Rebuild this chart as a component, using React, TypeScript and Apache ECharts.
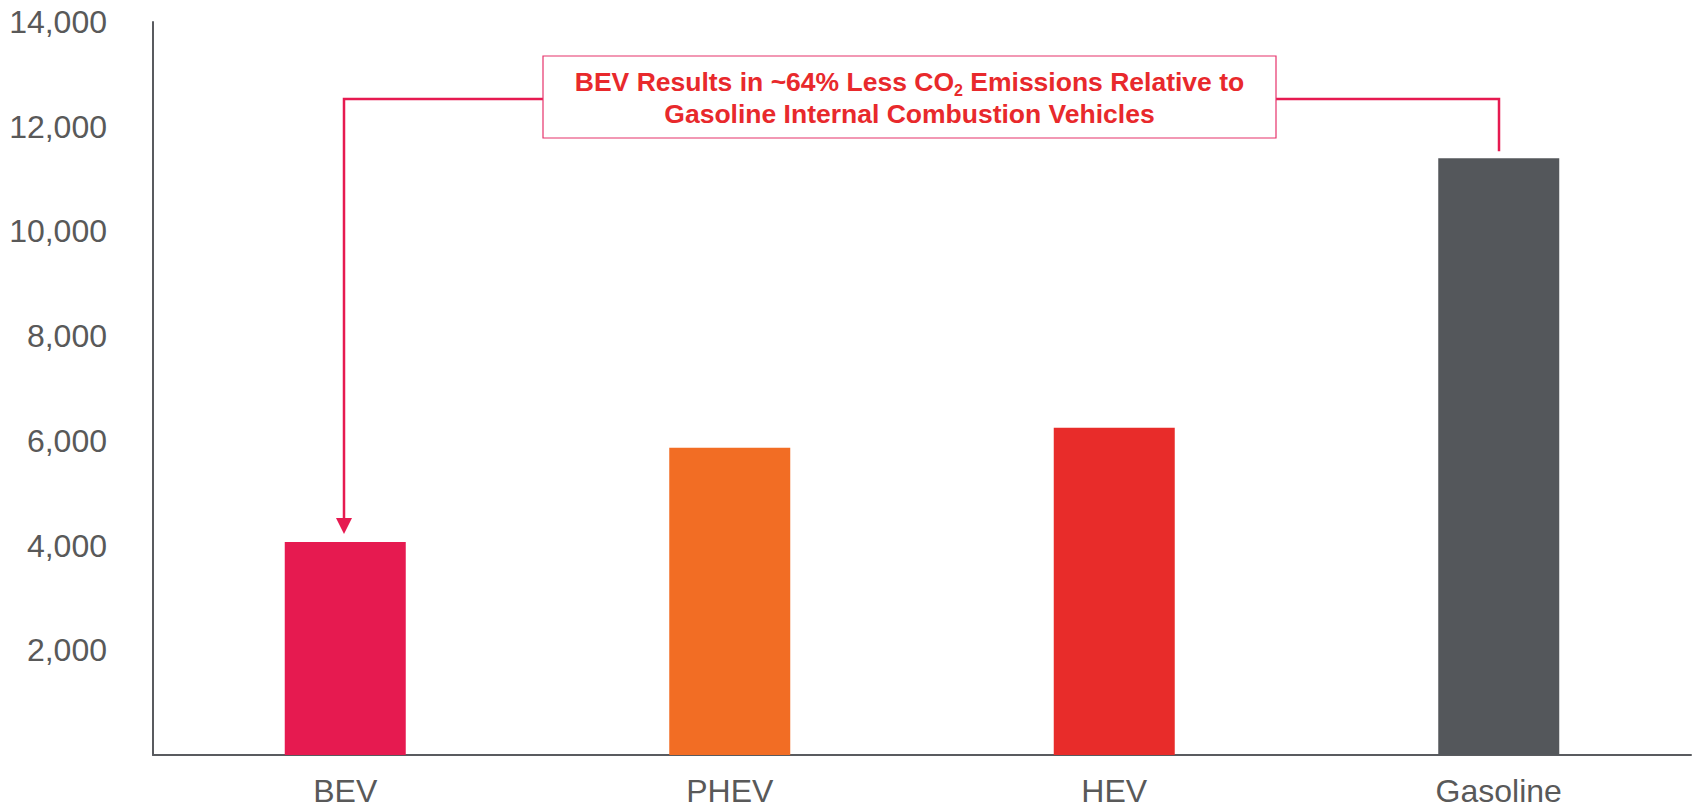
import React, { useEffect, useRef } from 'react';
import * as echarts from 'echarts';

const categories = ['BEV', 'PHEV', 'HEV', 'Gasoline'];
const emissions = [4070, 5870, 6250, 11400];
const barColors = ['#E61A50', '#F26D24', '#E82C2A', '#54575B'];
const yMax = 14000;
const yInterval = 2000;
const calloutLine1 = 'BEV Results in ~64% Less CO';
const calloutSub = '2';
const calloutLine1End = ' Emissions Relative to';
const calloutLine2 = 'Gasoline Internal Combustion Vehicles';

const axisGray = '#595b5f';
const labelGray = '#595959';
const calloutRed = '#E8292C';
const connectorPink = '#E61A50';
const boxBorder = '#E6336B';
const baseFont = "'Liberation Sans', Arial, sans-serif";

export default function App() {
  const ref = useRef<HTMLDivElement>(null);

  useEffect(() => {
    if (!ref.current) return;
    const chart = echarts.init(ref.current, undefined, { renderer: 'svg' });
    chart.setOption({
      animation: false,
      grid: { left: 153, right: 3, top: 22, bottom: 54, containLabel: false },
      xAxis: {
        type: 'category',
        data: categories,
        axisLine: { show: true, lineStyle: { color: axisGray, width: 2 } },
        axisTick: { show: false },
        axisLabel: { color: labelGray, fontSize: 32, fontFamily: baseFont, margin: 20 },
      },
      yAxis: {
        type: 'value',
        min: 0,
        max: yMax,
        interval: yInterval,
        axisLine: { show: true, lineStyle: { color: axisGray, width: 2 } },
        axisTick: { show: false },
        splitLine: { show: false },
        axisLabel: {
          color: labelGray,
          fontSize: 32,
          fontFamily: baseFont,
          margin: 46,
          formatter: (v: number) => (v === 0 ? '' : v.toLocaleString('en-US')),
        },
      },
      series: [
        {
          type: 'bar',
          barWidth: 121,
          data: emissions.map((v, i) => ({ value: v, itemStyle: { color: barColors[i] } })),
        },
      ],
    });

    const bev = chart.convertToPixel({ seriesIndex: 0 }, [0, emissions[0]]) as number[];
    const gas = chart.convertToPixel({ seriesIndex: 0 }, [3, emissions[3]]) as number[];
    const boxLeft = 543;
    const boxRight = 1276;
    const boxTop = 56;
    const boxBottom = 138;
    const connY = 99;
    const bx = Math.round(bev[0]) - 1;
    const gx = Math.round(gas[0]);
    const tipY = bev[1] - 8;

    chart.setOption({
      graphic: [
        {
          type: 'polyline',
          shape: { points: [[boxLeft, connY], [bx, connY], [bx, tipY - 14]] },
          style: { stroke: connectorPink, lineWidth: 2.5, fill: null },
          z: 10,
        },
        {
          type: 'polygon',
          shape: { points: [[bx - 8, tipY - 16], [bx + 8, tipY - 16], [bx, tipY]] },
          style: { fill: connectorPink },
          z: 10,
        },
        {
          type: 'polyline',
          shape: { points: [[boxRight, connY], [gx, connY], [gx, gas[1] - 7]] },
          style: { stroke: connectorPink, lineWidth: 2.5, fill: null },
          z: 10,
        },
        {
          type: 'rect',
          shape: { x: boxLeft, y: boxTop, width: boxRight - boxLeft, height: boxBottom - boxTop },
          style: { fill: '#ffffff', stroke: boxBorder, lineWidth: 1.2 },
          z: 11,
        },
        {
          type: 'text',
          x: (boxLeft + boxRight) / 2,
          y: 98,
          z: 12,
          style: {
            text:
              '{a|' + calloutLine1 + '}{s|' + calloutSub + '}{a|' + calloutLine1End + '}\n{a|' + calloutLine2 + '}',
            align: 'center',
            verticalAlign: 'middle',
            fill: calloutRed,
            rich: {
              a: {
                fontFamily: baseFont,
                fontWeight: 'bold',
                fontSize: 26.5,
                lineHeight: 32,
                fill: calloutRed,
                verticalAlign: 'middle',
              },
              s: {
                fontFamily: baseFont,
                fontWeight: 'bold',
                fontSize: 16,
                lineHeight: 16,
                fill: calloutRed,
                verticalAlign: 'bottom',
              },
            },
          },
        },
      ],
    });

    return () => chart.dispose();
  }, []);

  return (
    <div
      ref={ref}
      style={{ position: 'absolute', left: 0, top: 0, width: 1694, height: 809, background: '#ffffff' }}
    />
  );
}
